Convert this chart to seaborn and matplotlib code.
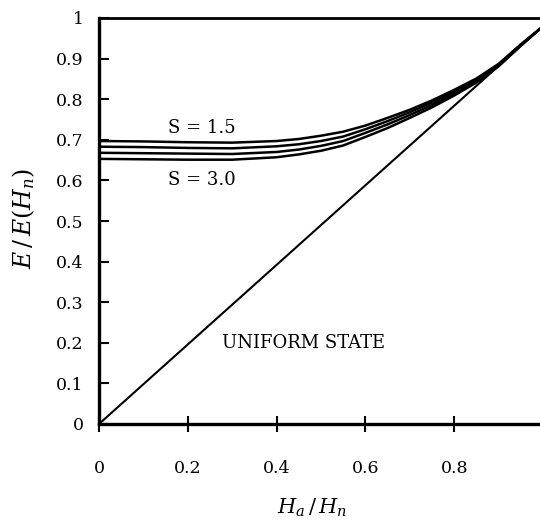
import pandas as pd
import matplotlib
matplotlib.use("Agg")
import matplotlib.pyplot as plt
import seaborn as sns

# field ratio Ha/Hn
x_vals = [0.0, 0.1, 0.2, 0.3, 0.4, 0.45, 0.5, 0.55, 0.6, 0.65, 0.7, 0.75, 0.8, 0.85, 0.9, 0.95, 0.994]

# E/E(Hn) for each S
s_15 = [0.697, 0.696, 0.694, 0.693, 0.697, 0.702, 0.710, 0.720, 0.735, 0.754, 0.774, 0.797, 0.823, 0.851, 0.887, 0.935, 0.974]
s_20 = [0.683, 0.682, 0.680, 0.679, 0.684, 0.689, 0.697, 0.708, 0.726, 0.746, 0.768, 0.792, 0.819, 0.848, 0.885, 0.934, 0.974]
s_25 = [0.668, 0.667, 0.666, 0.665, 0.670, 0.676, 0.685, 0.697, 0.717, 0.738, 0.761, 0.786, 0.814, 0.845, 0.883, 0.933, 0.974]
s_30 = [0.653, 0.652, 0.651, 0.651, 0.657, 0.664, 0.673, 0.686, 0.707, 0.729, 0.754, 0.780, 0.809, 0.841, 0.881, 0.932, 0.974]

# uniform state line
uni_x = [0.0, 0.994]
uni_y = [0.0, 0.974]

y_ticks = [0, 0.1, 0.2, 0.3, 0.4, 0.5, 0.6, 0.7, 0.8, 0.9, 1]
y_labels = ["0", "0.1", "0.2", "0.3", "0.4", "0.5", "0.6", "0.7", "0.8", "0.9", "1"]
x_ticks = [0, 0.2, 0.4, 0.6, 0.8]
x_labels = ["0", "0.2", "0.4", "0.6", "0.8"]

rows = []
for s, ys in [("1.5", s_15), ("2.0", s_20), ("2.5", s_25), ("3.0", s_30)]:
    for xv, yv in zip(x_vals, ys):
        rows.append({"x": xv, "y": yv, "S": s})
df = pd.DataFrame(rows)
df_uni = pd.DataFrame({"x": uni_x, "y": uni_y})

sns.set_style("ticks")
plt.rcParams["font.family"] = ["DejaVu Serif"]
plt.rcParams["mathtext.fontset"] = "dejavuserif"
plt.rcParams["text.color"] = "black"
plt.rcParams["axes.labelcolor"] = "black"
plt.rcParams["xtick.color"] = "black"
plt.rcParams["ytick.color"] = "black"
plt.rcParams["axes.edgecolor"] = "black"

fig = plt.figure(figsize=(5.4, 5.2), dpi=100)
ax = fig.add_axes([99 / 540, 1 - 424 / 520, 444 / 540, 406 / 520])

sns.lineplot(data=df, x="x", y="y", hue="S", palette=["black"] * 4,
             legend=False, linewidth=1.8, ax=ax)
sns.lineplot(data=df_uni, x="x", y="y", color="black", linewidth=1.5, ax=ax)

ax.set_xlim(0, 1)
ax.set_ylim(0, 1)
ax.set_yticks(y_ticks)
ax.set_yticklabels(y_labels, fontsize=12.5)
ax.set_xticks(x_ticks)
ax.set_xticklabels(x_labels, fontsize=12.5)
ax.tick_params(axis="y", direction="in", length=7, width=1.5, pad=11)
ax.tick_params(axis="x", direction="inout", length=12, width=1.5, pad=20)

for side in ["left", "bottom"]:
    ax.spines[side].set_linewidth(2.4)
ax.spines["top"].set_linewidth(2.0)
ax.spines["right"].set_linewidth(2.0)

ax.text(0.231, 0.728, "S = 1.5", ha="center", va="center", fontsize=13)
ax.text(0.231, 0.600, "S = 3.0", ha="center", va="center", fontsize=13)
ax.text(0.276, 0.200, "UNIFORM STATE", ha="left", va="center", fontsize=13)

ax.set_xlabel(r"$H_a\,/\,H_n$", fontsize=15)
ax.set_ylabel(r"$E\,/\,E(H_n)$", fontsize=17)
ax.xaxis.set_label_coords(0.48, -0.18)
ax.yaxis.set_label_coords(-0.14, 0.505)

fig.savefig("out.png", dpi=100)
